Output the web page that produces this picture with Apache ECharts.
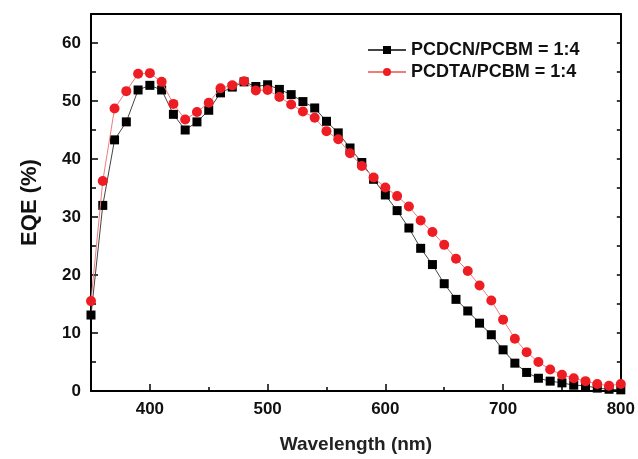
<!DOCTYPE html>
<html>
<head>
<meta charset="utf-8">
<script src="https://cdn.jsdelivr.net/npm/echarts@6/dist/echarts.min.js"></script>
<style>
  html, body { margin: 0; padding: 0; background: #fff; }
  #chart { width: 638px; height: 459px; }
</style>
</head>
<body>
<div id="chart"></div>
<script>
// wavelength (nm)
const wavelengths = [350, 360, 370, 380, 390, 400, 410, 420, 430, 440,
  450, 460, 470, 480, 490, 500, 510, 520, 530, 540,
  550, 560, 570, 580, 590, 600, 610, 620, 630, 640,
  650, 660, 670, 680, 690, 700, 710, 720, 730, 740,
  750, 760, 770, 780, 790, 800]
// EQE (%)
const eqePCDCN = [13.1, 32.0, 43.3, 46.4, 51.9, 52.7, 51.9, 47.7, 45.0, 46.4,
  48.4, 51.4, 52.4, 53.3, 52.5, 52.8, 52.0, 51.1, 49.9, 48.8,
  46.5, 44.5, 41.9, 39.4, 36.5, 33.8, 31.1, 28.1, 24.6, 21.8,
  18.5, 15.8, 13.8, 11.7, 9.7, 7.1, 4.8, 3.2, 2.2, 1.7,
  1.4, 1.0, 0.9, 0.5, 0.3, 0.2]
const eqePCDTA = [15.5, 36.2, 48.7, 51.7, 54.7, 54.8, 53.3, 49.5, 46.8, 48.1,
  49.7, 52.2, 52.7, 53.4, 51.8, 51.9, 50.7, 49.4, 48.2, 47.1,
  44.8, 43.4, 41.0, 38.8, 36.8, 35.1, 33.6, 31.8, 29.4, 27.4,
  25.2, 22.8, 20.7, 18.2, 15.6, 12.3, 9.0, 6.7, 5.0, 3.7,
  2.8, 2.2, 1.7, 1.2, 0.9, 1.2]
const seriesNames = ['PCDCN/PCBM = 1:4', 'PCDTA/PCBM = 1:4']
const xTicks = [400, 500, 600, 700, 800]

const font = "'Liberation Sans', Arial, sans-serif"
let chart = echarts.init(document.getElementById('chart'))

let pairs = (ys) => wavelengths.map((w, i) => [w, ys[i]])

var option = {
  animation: false,
  backgroundColor: '#fff',
  grid: { left: 91, right: 15, top: 14, bottom: 66 },
  legend: {
    orient: 'vertical',
    left: 362,
    top: 36,
    itemWidth: 38,
    itemHeight: 10,
    itemGap: 4,
    data: seriesNames,
    textStyle: { fontFamily: font, fontSize: 18, fontWeight: 'bold', color: '#111', lineHeight: 18 }
  },
  xAxis: [
    {
      type: 'value', min: 350, max: 800,
      name: 'Wavelength (nm)', nameLocation: 'middle', nameGap: 44,
      nameTextStyle: { fontFamily: font, fontSize: 19, fontWeight: 'bold', color: '#222' },
      axisLine: { lineStyle: { color: '#000', width: 2 } },
      axisTick: { inside: true, length: 7, customValues: xTicks, lineStyle: { color: '#000', width: 1.5 } },
      axisLabel: { customValues: xTicks, margin: 10, fontFamily: font, fontSize: 17, fontWeight: 'bold', color: '#111' },
      splitLine: { show: false }
    },
    {
      // minor ticks every 50 nm
      type: 'value', min: 350, max: 800, interval: 50, position: 'bottom',
      axisLine: { show: false },
      axisTick: { inside: true, length: 4, lineStyle: { color: '#000', width: 1.5 } },
      axisLabel: { show: false },
      splitLine: { show: false }
    },
    {
      // top frame
      type: 'value', min: 350, max: 800, position: 'top',
      axisLine: { lineStyle: { color: '#000', width: 2 } },
      axisTick: { show: false },
      axisLabel: { show: false },
      splitLine: { show: false }
    }
  ],
  yAxis: [
    {
      type: 'value', min: 0, max: 65, interval: 10,
      name: 'EQE (%)', nameLocation: 'middle', nameGap: 50,
      nameTextStyle: { fontFamily: font, fontSize: 22, fontWeight: 'bold', color: '#111' },
      axisLine: { lineStyle: { color: '#000', width: 2 } },
      axisTick: { inside: true, length: 7, lineStyle: { color: '#000', width: 1.5 } },
      minorTick: { show: true, splitNumber: 2, length: 5, lineStyle: { color: '#000', width: 1.5 } },
      axisLabel: { showMaxLabel: false, margin: 10, fontFamily: font, fontSize: 17, fontWeight: 'bold', color: '#111' },
      splitLine: { show: false }
    },
    {
      // right frame
      type: 'value', min: 0, max: 65, interval: 5, position: 'right',
      axisLine: { lineStyle: { color: '#000', width: 2 } },
      axisTick: { inside: true, length: 4, lineStyle: { color: '#000', width: 1.5 } },
      axisLabel: { show: false },
      splitLine: { show: false }
    }
  ],
  series: [
    {
      name: seriesNames[0],
      type: 'line',
      data: pairs(eqePCDCN),
      symbol: 'rect',
      symbolSize: 9,
      itemStyle: { color: '#000' },
      lineStyle: { color: '#444', width: 1 },
      z: 3
    },
    {
      name: seriesNames[1],
      type: 'line',
      data: pairs(eqePCDTA),
      symbol: 'circle',
      symbolSize: 10,
      itemStyle: { color: '#ee1d23' },
      lineStyle: { color: '#ef7d7d', width: 1 },
      z: 4
    }
  ]
}

if (option && typeof option === 'object') {
  chart.setOption(option)
}
</script>
</body>
</html>
